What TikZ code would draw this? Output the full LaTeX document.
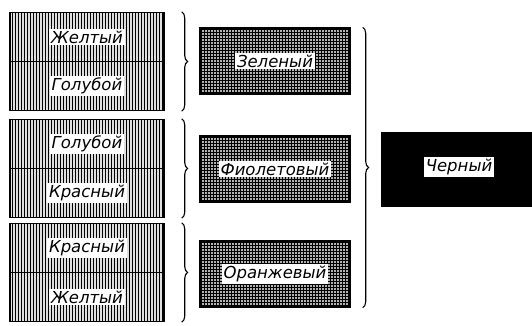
\documentclass[tikz,border=0pt]{standalone}
\usepackage{fontspec}
\setmainfont{DejaVu Sans}
\usetikzlibrary{patterns,decorations.pathreplacing}

\begin{document}
\begin{tikzpicture}[x=1pt,y=-1pt,
        every node/.style={font=\itshape\fontsize{16.5}{18}\selectfont},
        pair/.style={draw, line width=1.4pt, minimum width=154pt, minimum height=49pt,
            fill=gray!25, postaction={pattern=vertical lines}},
        mix/.style={draw, line width=1.4pt, minimum width=150pt, minimum height=66pt,
            fill=gray!60, postaction={pattern=grid}},
        word/.style={fill=white, inner sep=2pt},
        brace/.style={decorate, decoration={brace, amplitude=6pt}, line width=1.1pt}]
    \useasboundingbox (0,0) rectangle (532,326);
    % first column
    \node[pair] (yel1) at (87,37) {};
    \node[pair] (blu1) at (87,86) {};
    \node[pair] (blu2) at (87,144) {};
    \node[pair] (red2) at (87,193) {};
    \node[pair] (red3) at (87,248) {};
    \node[pair] (yel3) at (87,297) {};
    \node[word] (wyel1) at (yel1) {Желтый};
    \node[word] (wblu1) at (blu1) {Голубой};
    \node[word] (wblu2) at (blu2) {Голубой};
    \node[word] (wred2) at (red2) {Красный};
    \node[word] (wred3) at (red3) {Красный};
    \node[word] (wyel3) at (yel3) {Желтый};
    % second column
    \node[mix] (green) at (275,61) {};
    \node[mix] (violet) at (275,169) {};
    \node[mix] (orange) at (275,274) {};
    \node[word] (wgreen) at (green) {Зеленый};
    \node[word] (wviolet) at (violet) {Фиолетовый};
    \node[word] (worange) at (orange) {Оранжевый};
    % result
    \node[fill=black, minimum width=152pt, minimum height=75pt] (black) at (457,169.5) {};
    \node[word] (wblack) at (459,167) {Черный};
    % braces
    \draw[brace] ([xshift=17pt]yel1.north east) -- ([xshift=17pt]blu1.south east);
    \draw[brace] ([xshift=17pt]blu2.north east) -- ([xshift=17pt]red2.south east);
    \draw[brace] ([xshift=17pt]red3.north east) -- ([xshift=17pt]yel3.south east);
    \draw[brace] ([xshift=12pt]green.north east) -- ([xshift=12pt]orange.south east);
\end{tikzpicture}
\end{document}
